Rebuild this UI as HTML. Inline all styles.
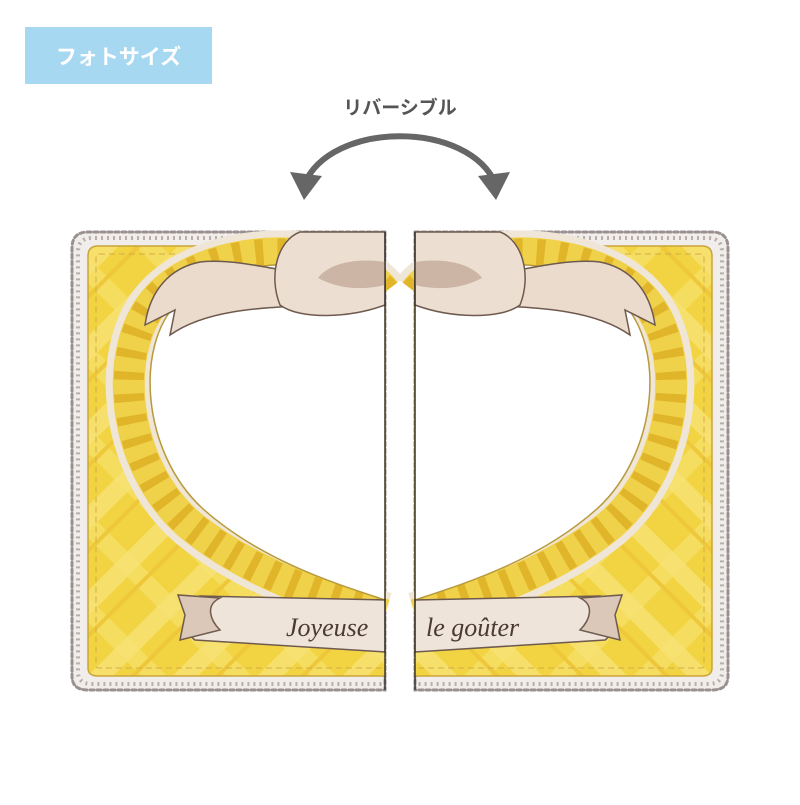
<!DOCTYPE html>
<html><head><meta charset="utf-8"><style>
body{margin:0;background:#fff;width:800px;height:800px;overflow:hidden;font-family:"Liberation Sans","Noto Sans CJK JP",sans-serif}
</style></head><body>
<svg width="800" height="800" viewBox="0 0 800 800" xmlns="http://www.w3.org/2000/svg">
<defs>
<pattern id="plaid" width="60" height="60" patternUnits="userSpaceOnUse" patternTransform="rotate(45)">
<rect width="60" height="60" fill="#f2d442"/>
<rect x="0" y="0" width="18" height="60" fill="#f7e275" opacity="0.8"/>
<rect x="0" y="0" width="60" height="18" fill="#f7e275" opacity="0.6"/>
<rect x="30" y="0" width="4" height="60" fill="#eec83a"/>
</pattern>
<g id="half">
<path d="M385,232 L88,232 Q72,232 72,248 L72,676 Q72,690 88,690 L385,690 Z" fill="#f1edeb" stroke="#9a9090" stroke-width="3" stroke-dasharray="4 3" stroke-linecap="round"/>
<path d="M385,238 L92,238 Q78,238 78,252 L78,672 Q78,684 92,684 L385,684" fill="none" stroke="#b8aeaa" stroke-width="4" stroke-dasharray="2 4"/>
<path d="M385,246 L98,246 Q88,246 88,256 L88,668 Q88,676 98,676 L385,676 Z" fill="url(#plaid)" stroke="#c9a43a" stroke-width="1.5"/>
<path d="M385,254 L100,254 Q96,254 96,258 L96,666 Q96,668 100,668 L385,668" fill="none" stroke="#d2ac48" stroke-width="1" stroke-dasharray="6 4"/>
<path d="M385,292 C345,240 215,240 160,295 C110,345 120,465 190,525 C255,578 335,600 385,615" fill="none" stroke="#efe6d8" stroke-width="46"/>
<path d="M385,292 C345,240 215,240 160,295 C110,345 120,465 190,525 C255,578 335,600 385,615" fill="none" stroke="#f0d24a" stroke-width="32"/>
<path d="M385,292 C345,240 215,240 160,295 C110,345 120,465 190,525 C255,578 335,600 385,615" fill="none" stroke="#e0b52a" stroke-width="30" stroke-dasharray="8 14"/>
<path d="M385,300 C350,255 232,250 178,302 C134,346 142,452 202,508 C262,562 340,585 385,600 Z" fill="#fff" stroke="#b89a3a" stroke-width="1.5"/>
<path d="M385,270 C360,300 260,255 200,262 C170,268 150,290 145,325 L175,310 L170,335 C220,300 300,310 385,300 Z" fill="#eadbcc" stroke="#6e5a4e" stroke-width="1.5"/>
<path d="M385,232 L300,232 C278,240 268,275 280,305 C300,320 350,318 385,305 Z" fill="#ecdfd2" stroke="#6e5a4e" stroke-width="1.5"/>
<path d="M385,262 C360,258 330,262 318,278 C340,290 365,290 385,285Z" fill="#cdb5a5"/>
<path d="M385,600 L200,596 C185,600 180,630 195,640 L385,652 Z" fill="#efe4da" stroke="#6e5a4e" stroke-width="1.5"/>
<path d="M220,598 C205,605 210,620 220,630 L180,640 L185,615 L178,595 Z" fill="#dbc8b8" stroke="#6e5a4e" stroke-width="1.5"/>
<path d="M385,232 L385,690" stroke="#222" stroke-width="1.2"/>
</g>
</defs>
<rect x="25" y="27" width="187" height="57" fill="#a6d9f1"/>
<text x="118.5" y="64" font-size="21" font-weight="bold" fill="#fff" text-anchor="middle" font-family="Liberation Sans,Noto Sans CJK JP,sans-serif">フォトサイズ</text>
<text x="400" y="114" font-size="19" font-weight="bold" fill="#555" text-anchor="middle" font-family="Liberation Sans,Noto Sans CJK JP,sans-serif">リバーシブル</text>
<path d="M304,185 C330,120 470,120 496,185" fill="none" stroke="#666" stroke-width="6"/>
<path d="M290,172 L304,200 L322,176 Z" fill="#666"/>
<path d="M510,172 L496,200 L478,176 Z" fill="#666"/>
<use href="#half"/>
<use href="#half" transform="translate(800,0) scale(-1,1)"/>
<text x="286" y="636" font-size="26" font-style="italic" fill="#4a3a32" font-family="Liberation Serif,serif">Joyeuse</text>
<text x="426" y="636" font-size="26" font-style="italic" fill="#4a3a32" font-family="Liberation Serif,serif">le goûter</text>
</svg>
</body></html>
